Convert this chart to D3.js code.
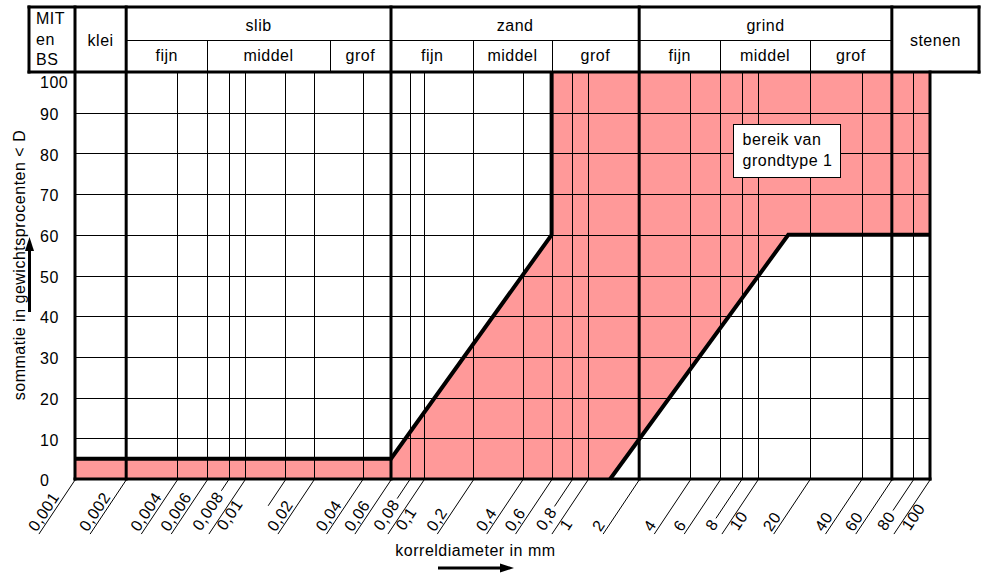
<!DOCTYPE html>
<html><head><meta charset="utf-8">
<script src="https://cdn.jsdelivr.net/npm/d3@7"></script>
<style>
body{margin:0;background:#fff}
text{font-family:"Liberation Sans",Arial,sans-serif;font-size:16px;fill:#000;letter-spacing:0.5px}
</style>
</head><body>
<svg id="c" width="982" height="576"></svg>
<script>
// ---- data ----
const xTickValues = [0.001,0.002,0.004,0.006,0.008,0.01,0.02,0.04,0.06,0.08,0.1,0.2,0.4,0.6,0.8,1,2,4,6,8,10,20,40,60,80,100];
const xTickLabels = ["0,001","0,002","0,004","0,006","0,008","0,01","0,02","0,04","0,06","0,08","0,1","0,2","0,4","0,6","0,8","1","2","4","6","8","10","20","40","60","80","100"];
const xExtraGrid = [0.015];
const yTickValues = [0,10,20,30,40,50,60,70,80,90,100];
const yTickLabels = ["0","10","20","30","40","50","60","70","80","90","100"];
const mainBounds = [0.002,0.06,2,60];            // klei | slib | zand | grind | stenen
const mainClasses = ["slib","zand","grind"];
const mainClassRanges = [[0.002,0.06],[0.06,2],[2,60]];
const subClasses = ["fijn","middel","grof"];
const subBounds = [[0.002,0.006,0.025,0.06],[0.06,0.2,0.6,2],[2,6,20,60]];
const upperBound = [[0.001,5],[0.06,5],[0.6,60],[0.6,100]];
const lowerBound = [[1.35,0],[15,60],[100,60]];
const boxText = ["bereik van","grondtype 1"];

// ---- scales ----
const x = d3.scaleLog()
  .domain([0.001,0.01,0.02,0.06,0.1,1,10,100])
  .range([75,245,314,391,424,588,758,930]);
const y = d3.scaleLinear().domain([0,100]).range([479,72]);

const L = x(0.001), R = x(100), T = y(100), B = y(0);
const hTop = 7, hMid = 40, hLeft = L - 46, hRight = R + 49;

const svg = d3.select("#c");
const px = v => Math.round(x(v)) + 0.5;
const py = v => Math.round(y(v)) + 0.5;

// ---- fill ----
const poly = upperBound.concat([[100,100]], lowerBound.slice().reverse(), [[0.001,0]]);
svg.append("path")
  .attr("d", d3.line().x(d=>x(d[0])).y(d=>y(d[1]))(poly) + "Z")
  .attr("fill","#ff9999");

// ---- grid ----
const g = svg.append("g").attr("stroke","#000").attr("stroke-width",1).attr("shape-rendering","crispEdges");
xTickValues.concat(xExtraGrid).filter(v=>v>0.001 && v<100).forEach(v=>{
  g.append("line").attr("x1",px(v)).attr("x2",px(v)).attr("y1",T).attr("y2",B);
});
yTickValues.filter(v=>v>0 && v<100).forEach(v=>{
  g.append("line").attr("x1",L).attr("x2",R).attr("y1",py(v)).attr("y2",py(v));
});

// ---- header thin lines ----
g.append("line").attr("x1",x(mainBounds[0])).attr("x2",x(mainBounds[3])).attr("y1",hMid+0.5).attr("y2",hMid+0.5);
subBounds.forEach(b=>{
  b.slice(1,3).forEach(v=>{
    g.append("line").attr("x1",px(v)).attr("x2",px(v)).attr("y1",hMid).attr("y2",T);
  });
});

// ---- thick lines ----
const tk = svg.append("g").attr("stroke","#000").attr("stroke-width",3).attr("stroke-linecap","square");
tk.append("line").attr("x1",hLeft).attr("x2",hRight).attr("y1",hTop).attr("y2",hTop);
tk.append("line").attr("x1",hLeft).attr("x2",hRight).attr("y1",T).attr("y2",T);
tk.append("line").attr("x1",hLeft).attr("x2",hLeft).attr("y1",hTop).attr("y2",T);
tk.append("line").attr("x1",hRight).attr("x2",hRight).attr("y1",hTop).attr("y2",T);
tk.append("line").attr("x1",L).attr("x2",L).attr("y1",hTop).attr("y2",B);
tk.append("line").attr("x1",R).attr("x2",R).attr("y1",T).attr("y2",B);
tk.append("line").attr("x1",L).attr("x2",R).attr("y1",B).attr("y2",B);
mainBounds.forEach(v=>{
  tk.append("line").attr("x1",x(v)).attr("x2",x(v)).attr("y1",hTop).attr("y2",B);
});

// ---- curves ----
const line = d3.line().x(d=>x(d[0])).y(d=>y(d[1]));
[upperBound, lowerBound].forEach(c=>{
  svg.append("path").attr("d",line(c)).attr("fill","none").attr("stroke","#000")
    .attr("stroke-width",4).attr("stroke-linejoin","miter");
});

// ---- header texts ----
["MIT","en","BS"].forEach((t,i)=>{
  svg.append("text").attr("x",hLeft+7).attr("y",24+i*20.5).text(t);
});
svg.append("text").attr("x",(L+x(mainBounds[0]))/2).attr("y",45.5).attr("text-anchor","middle").text("klei");
svg.append("text").attr("x",(x(mainBounds[3])+hRight)/2).attr("y",45.5).attr("text-anchor","middle").text("stenen");
mainClasses.forEach((c,i)=>{
  svg.append("text").attr("x",(x(mainClassRanges[i][0])+x(mainClassRanges[i][1]))/2).attr("y",30.5)
    .attr("text-anchor","middle").text(c);
});
subBounds.forEach(b=>{
  subClasses.forEach((c,j)=>{
    svg.append("text").attr("x",(x(b[j])+x(b[j+1]))/2).attr("y",60.5)
      .attr("text-anchor","middle").text(c);
  });
});

// ---- y tick labels ----
yTickValues.forEach((v,i)=>{
  svg.append("text").attr("x",40).attr("y",Math.max(y(v)+1.5,T+10.5)+5.75).text(yTickLabels[i]);
});

// ---- x tick labels with slanted leaders ----
const ang = 56.3*Math.PI/180;
const dx = -Math.cos(ang), dy = Math.sin(ang);
const pt = (v,t)=>[x(v)+dx*t, B+1+dy*t];
const lead = svg.append("g").attr("stroke","#000").attr("stroke-width",1);
xTickValues.forEach((v,i)=>{
  const e = Math.floor(Math.log10(v)+1e-9);
  const m = Math.round(v/Math.pow(10,e));
  let kind = "left";
  if (m===8) kind = "center";
  else if (m===1 && i>0) kind = "right";
  if (kind==="left"){
    const p = pt(v,65);
    lead.append("line").attr("x1",x(v)).attr("y1",B+1).attr("x2",p[0]).attr("y2",p[1]);
    svg.append("text").attr("transform",`translate(${p[0]},${p[1]}) rotate(-56.3)`).attr("y",-3).text(xTickLabels[i]);
  } else if (kind==="right"){
    const p = pt(v,65), q = pt(v,54);
    lead.append("line").attr("x1",x(v)).attr("y1",B+1).attr("x2",p[0]).attr("y2",p[1]);
    svg.append("text").attr("transform",`translate(${q[0]},${q[1]}) rotate(-56.3)`).attr("y",12).text(xTickLabels[i]);
  } else {
    const q = pt(v,58.5);
    const tx = svg.append("text").attr("transform",`translate(${q[0]},${q[1]}) rotate(-56.3)`).attr("y",5.5).text(xTickLabels[i]);
    const w = tx.node().getComputedTextLength();
    const p = pt(v,58.5-w-3);
    lead.append("line").attr("x1",x(v)).attr("y1",B+1).attr("x2",p[0]).attr("y2",p[1]);
  }
});
xExtraGrid.forEach(v=>{
  const p = pt(v,31);
  lead.append("line").attr("x1",x(v)).attr("y1",B+1).attr("x2",p[0]).attr("y2",p[1]);
});

// ---- axis titles & arrows ----
svg.append("text").attr("x",475.5).attr("y",556).attr("text-anchor","middle").text("korreldiameter in mm");
svg.append("line").attr("x1",438).attr("x2",503).attr("y1",568).attr("y2",568).attr("stroke","#000").attr("stroke-width",3);
svg.append("path").attr("d","M514,568L500,563.5L500,572.5Z").attr("fill","#000");

svg.append("text").attr("transform","translate(24.5,265) rotate(-90)").attr("text-anchor","middle")
  .text("sommatie in gewichtsprocenten < D");
svg.append("line").attr("x1",29.5).attr("x2",29.5).attr("y1",312).attr("y2",249).attr("stroke","#000").attr("stroke-width",3);
svg.append("path").attr("d","M29.5,237L25,251L34,251Z").attr("fill","#000");

// ---- annotation box ----
svg.append("rect").attr("x",733.5).attr("y",124.5).attr("width",107).attr("height",53)
  .attr("fill","#fff").attr("stroke","#000").attr("stroke-width",1);
boxText.forEach((t,i)=>{
  svg.append("text").attr("x",742.5).attr("y",145+i*21).text(t);
});
</script>
</body></html>
